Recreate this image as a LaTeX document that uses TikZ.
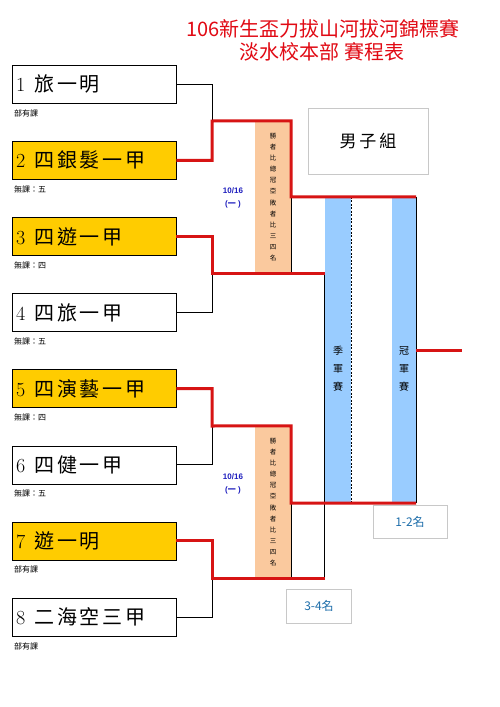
\documentclass[tikz,border=0pt]{standalone}
\usepackage{fontspec}
\newfontfamily\cjk{Noto Sans CJK TC}
\newfontfamily\cjkteam[LetterSpace=14]{Noto Sans CJK TC}
\newfontfamily\datefont{Liberation Sans}
\usetikzlibrary{positioning}
\definecolor{titlered}{RGB}{225,10,20}
\definecolor{linered}{RGB}{215,20,20}
\definecolor{gold}{RGB}{255,204,0}
\definecolor{peach}{RGB}{250,201,158}
\definecolor{skyblue}{RGB}{153,204,255}
\definecolor{dateblue}{RGB}{30,30,190}
\definecolor{rankblue}{RGB}{30,110,170}
\definecolor{framegray}{RGB}{200,200,200}

\tikzset{
  team/.style={draw,anchor=north west,minimum width=164pt,minimum height=38pt,
    text width=156pt,align=left,inner xsep=4pt,inner ysep=0pt},
  note/.style={anchor=north west,inner sep=0pt,font=\cjk\fontsize{8}{9}\selectfont},
  redline/.style={draw=linered,line width=3pt},
  thinline/.style={draw=black,line width=0.8pt},
  infobox/.style={draw=framegray,line width=1pt,fill=white},
  vtext/.style={align=center,inner sep=0pt},
}

\begin{document}
\begin{tikzpicture}[x=1pt,y=-1pt]
\useasboundingbox (0,0) rectangle (500,707);
\fill[white] (0,0) rectangle (500,707);

% title
\node[titlered,font=\cjk\fontsize{20}{22}\selectfont] (title) at (323,29) {106新生盃力拔山河拔河錦標賽};
\node[titlered,font=\cjk\fontsize{20}{22}\selectfont] (subtitle) at (322,52) {淡水校本部 賽程表};

% teams
\foreach \i/\nm/\fc/\nt in {1/旅一明/white/部有課, 2/四銀髮一甲/gold/無課：五,
    3/四遊一甲/gold/無課：四, 4/四旅一甲/white/無課：五,
    5/四演藝一甲/gold/無課：四, 6/四健一甲/white/無課：五,
    7/遊一明/gold/部有課, 8/二海空三甲/white/部有課} {
  \node[team,fill=\fc] (t\i) at (12,{65+76.1*(\i-1)})
    {\fontsize{20}{22}\selectfont\i\hspace{9pt}{\cjkteam\nm}};
  \node[note] (n\i) at ([xshift=2pt,yshift=-6pt]t\i.south west) {\nt};
}

% bracket joints
\coordinate (j1) at (212,121);
\coordinate (j2) at (212,273);
\coordinate (j3) at (212,426);
\coordinate (j4) at (212,578);

% semi-final bars
\node[fill=peach,minimum width=36pt,minimum height=152pt,inner sep=0pt] (s1) at (273,197) {};
\node[fill=peach,minimum width=36pt,minimum height=152pt,inner sep=0pt] (s2) at (273,502) {};
\node[vtext,font=\cjk\fontsize{6.5}{11.1}\selectfont] at (s1) {勝\\者\\比\\總\\冠\\亞\\敗\\者\\比\\三\\四\\名};
\node[vtext,font=\cjk\fontsize{6.5}{11.1}\selectfont] at (s2) {勝\\者\\比\\總\\冠\\亞\\敗\\者\\比\\三\\四\\名};

% final bars
\node[fill=skyblue,minimum width=26pt,minimum height=306pt,inner sep=0pt] (f3) at (338,350) {};
\node[fill=skyblue,minimum width=24pt,minimum height=306pt,inner sep=0pt] (f1) at (404,350) {};
\node[vtext,font=\cjk\fontsize{10}{18}\selectfont] at (338,369) {季\\軍\\賽};
\node[vtext,font=\cjk\fontsize{10}{18}\selectfont] at (404,369) {冠\\軍\\賽};

% dates
\node[vtext,dateblue,font=\datefont\bfseries\fontsize{8}{13}\selectfont] (d1) at (233,198) {10/16\\({\cjk 一} )};
\node[vtext,dateblue,font=\datefont\bfseries\fontsize{8}{13}\selectfont] (d2) at (233,484) {10/16\\({\cjk 一} )};

% black lines
\draw[thinline] (t1.east) -| (j1);
\draw[thinline] (t4.east) -| (j2);
\draw[thinline] (t6.east) -| (j3);
\draw[thinline] (t8.east) -| (j4);
\draw[thinline] (s1.east |- f3.north) -- (s1.south east);
\draw[thinline] (s2.north east |- f3.south) -- (s2.south east);
\draw[thinline] (f3.north west |- j2) -- (f3.west |- j4);
\draw[thinline,dashed,dash pattern=on 2pt off 1.5pt] (f3.north east) -- (f3.south east);
\draw[thinline] (f1.north east) -- (f1.south east);

% red lines
\draw[redline] (t2.east) -| (j1) -- (s1.north east) -- (s1.east |- f3.north) -- (f1.north east);
\draw[redline] (t3.east) -| (j2) -- (f3.west |- j2);
\draw[redline] (t5.east) -| (j3) -- (s2.north east) -- (s2.east |- f3.south) -- (f1.south east);
\draw[redline] (t7.east) -| (j4) -- (f3.west |- j4);
\draw[redline] (f1.east) -- ++(46,0);

% labels
\node[infobox,minimum width=120pt,minimum height=66pt,font=\cjk\fontsize{17}{20}\selectfont] (group) at (368,141) {男\,子\,組};
\node[infobox,minimum width=74pt,minimum height=33pt,text=rankblue,font=\cjk\fontsize{12}{14}\selectfont] (r12) at (410,522) {1-2名};
\node[infobox,minimum width=65pt,minimum height=34pt,text=rankblue,font=\cjk\fontsize{12}{14}\selectfont] (r34) at (319,606) {3-4名};
\end{tikzpicture}
\end{document}
